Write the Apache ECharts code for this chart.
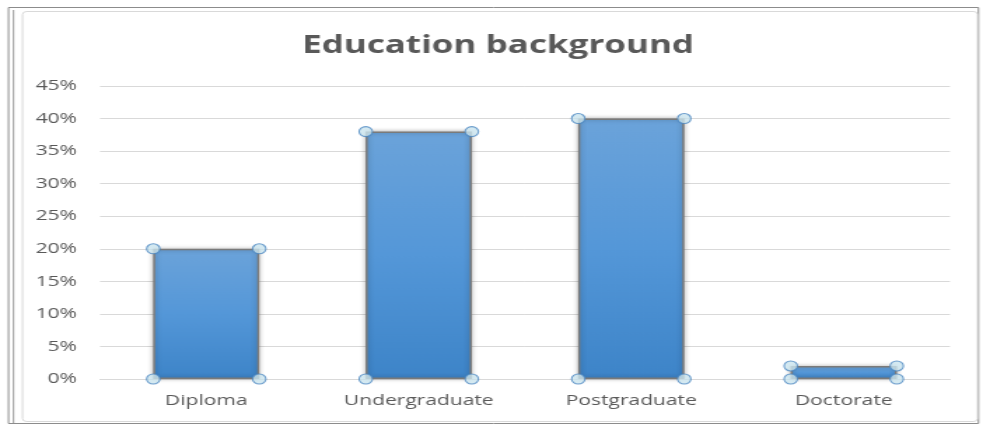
<!DOCTYPE html>
<html>
<head>
<meta charset="utf-8">
<script src="https://cdn.jsdelivr.net/npm/echarts@6/dist/echarts.min.js"></script>
<style>
html,body{margin:0;padding:0;background:#fff;overflow:hidden;}
#wrap{width:983px;height:427px;overflow:hidden;}
#chart{width:702px;height:427px;transform:scaleX(1.4003);transform-origin:0 0;}
</style>
</head>
<body>
<div id="wrap"><div id="chart"></div></div>
<script>
const categories = ['Diploma', 'Undergraduate', 'Postgraduate', 'Doctorate'];
const values = [20, 38, 40, 2];
const yTicks = [0, 5, 10, 15, 20, 25, 30, 35, 40, 45];
const titleText = 'Education background';

const S = 1.4003; // horizontal stretch of the picture
const chart = echarts.init(document.getElementById('chart'));
const handleStyle = { color: '#c9e3ee', borderColor: '#4a86c0', borderWidth: 1.1 };
const barHalf = 53 / S;
const topPts = values.map((v, i) => [i, v]);
const botPts = values.map((v, i) => [i, 0]);
function handles(data, dx) {
  return {
    type: 'scatter', data: data, symbol: 'circle', symbolSize: [9.5, 10],
    symbolOffset: [dx, 0], itemStyle: handleStyle, z: 5, silent: true
  };
}
const X = x => x / S;
chart.setOption({
  animation: false,
  title: {
    text: titleText, left: X(491), textAlign: 'center', top: 28,
    textStyle: { fontFamily: 'Open Sans', fontWeight: 'bold', fontSize: 25, color: '#595959' }
  },
  graphic: [
    { type: 'rect', shape: { x: X(8.5), y: 7.5, width: X(970), height: 416 }, style: { fill: 'none', stroke: '#8c8c8c', lineWidth: 1 }, silent: true },
    { type: 'line', shape: { x1: X(13.5), y1: 10, x2: X(13.5), y2: 423 }, style: { stroke: '#9a9a9a', lineWidth: 1 }, silent: true },
    { type: 'rect', shape: { x: X(22.5), y: 11.5, width: X(955), height: 410, r: 3 }, style: { fill: 'none', stroke: '#d9d9d9', lineWidth: 1 }, silent: true }
  ],
  grid: { left: X(100), right: X(33), top: 86, bottom: 48 },
  xAxis: {
    type: 'category', data: categories,
    axisLine: { show: true, lineStyle: { color: '#d9d9d9' } },
    axisTick: { show: false },
    axisLabel: { color: '#595959', fontFamily: 'Open Sans', fontSize: 15, margin: 14 }
  },
  yAxis: {
    type: 'value', min: 0, max: 45, interval: 5,
    axisLine: { show: false }, axisTick: { show: false },
    splitLine: { lineStyle: { color: '#d9d9d9', width: 1 } },
    axisLabel: { color: '#595959', fontFamily: 'Open Sans', fontSize: 15, margin: X(23),
      formatter: v => yTicks.includes(v) ? v + '%' : '' }
  },
  series: [
    {
      type: 'bar', data: values, barWidth: '50%',
      itemStyle: {
        color: new echarts.graphic.LinearGradient(0, 0, 0, 1, [
          { offset: 0, color: '#6ba3da' },
          { offset: 0.5, color: '#5497d8' },
          { offset: 1, color: '#3d84c8' }
        ]),
        borderColor: '#7a7a7a', borderWidth: 1.5,
        shadowColor: 'rgba(0,0,0,0.3)', shadowBlur: 4
      }
    },
    handles(topPts, -barHalf), handles(topPts, barHalf),
    handles(botPts, -barHalf), handles(botPts, barHalf)
  ]
});
</script>
</body>
</html>
